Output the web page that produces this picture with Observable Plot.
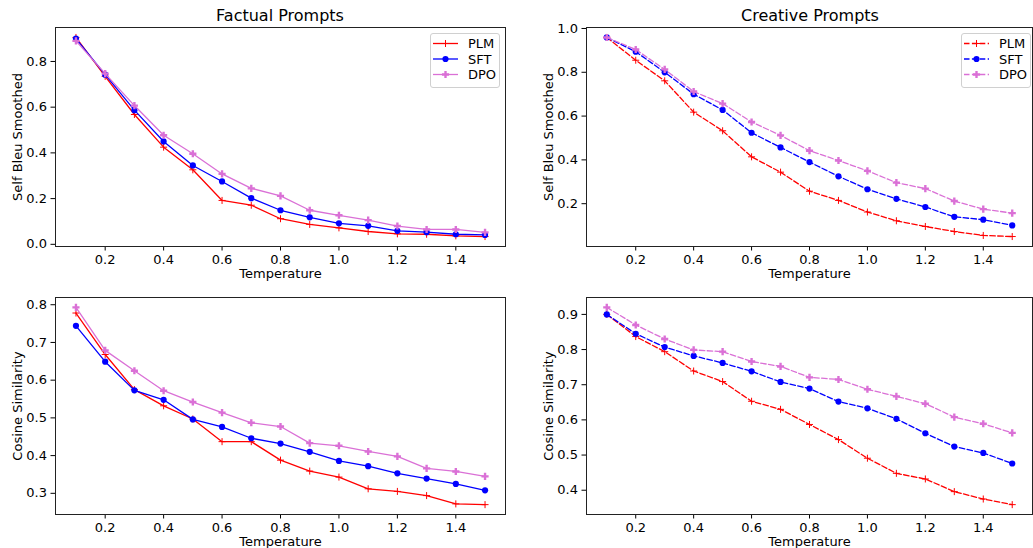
<!DOCTYPE html>
<html><head><meta charset="utf-8">
<script src="https://cdn.jsdelivr.net/npm/d3@7"></script>
<script src="https://cdn.jsdelivr.net/npm/@observablehq/plot@0.6"></script>
<style>
body{margin:0;background:#fff;font-family:"DejaVu Sans",sans-serif;}
#root{position:relative;width:1033px;height:548px;overflow:hidden;background:#fff;}
.panel{position:absolute;}
.title{position:absolute;font-size:16px;line-height:16px;transform:translateX(-50%);white-space:nowrap;color:#000;}
.legend{position:absolute;box-sizing:border-box;border:1px solid #d0d0d0;border-radius:3px;background:rgba(255,255,255,0.8);}
</style></head><body><div id="root"></div>
<script>
const temperature = [0.1,0.2,0.3,0.4,0.5,0.6,0.7,0.8,0.9,1.0,1.1,1.2,1.3,1.4,1.5];
const models = ["PLM","SFT","DPO"];
const xTicks = [0.2,0.4,0.6,0.8,1.0,1.2,1.4];

const factualBleuPLM = [0.905,0.735,0.568,0.425,0.326,0.192,0.171,0.112,0.087,0.072,0.056,0.046,0.044,0.037,0.034];
const factualBleuSFT = [0.900,0.742,0.587,0.450,0.345,0.275,0.202,0.149,0.118,0.092,0.081,0.059,0.053,0.044,0.041];
const factualBleuDPO = [0.890,0.747,0.607,0.477,0.396,0.308,0.245,0.212,0.149,0.127,0.106,0.080,0.065,0.065,0.052];

const creativeBleuPLM = [0.959,0.855,0.761,0.618,0.533,0.414,0.344,0.257,0.215,0.162,0.122,0.096,0.073,0.055,0.050];
const creativeBleuSFT = [0.959,0.894,0.800,0.700,0.628,0.524,0.457,0.390,0.325,0.266,0.222,0.185,0.140,0.127,0.101];
const creativeBleuDPO = [0.959,0.904,0.813,0.712,0.657,0.573,0.512,0.442,0.397,0.350,0.296,0.269,0.212,0.175,0.157];

const factualCosPLM = [0.778,0.668,0.575,0.532,0.497,0.437,0.437,0.388,0.359,0.343,0.312,0.305,0.294,0.272,0.270];
const factualCosSFT = [0.744,0.649,0.573,0.548,0.496,0.476,0.446,0.432,0.410,0.386,0.372,0.353,0.339,0.325,0.308];
const factualCosDPO = [0.793,0.679,0.625,0.572,0.542,0.514,0.487,0.477,0.433,0.426,0.411,0.398,0.366,0.358,0.345];

const creativeCosPLM = [0.900,0.837,0.794,0.739,0.709,0.653,0.630,0.587,0.544,0.491,0.448,0.432,0.396,0.375,0.359];
const creativeCosSFT = [0.900,0.845,0.807,0.782,0.762,0.738,0.708,0.689,0.652,0.633,0.603,0.562,0.524,0.506,0.476];
const creativeCosDPO = [0.920,0.870,0.830,0.799,0.794,0.766,0.752,0.721,0.715,0.687,0.667,0.646,0.608,0.589,0.563];

const colors = {PLM:"#ff0000", SFT:"#0000ff", DPO:"#da70d6"};

function toRows(plm, sft, dpo){
  const rows = [];
  [["PLM",plm],["SFT",sft],["DPO",dpo]].forEach(([m,arr]) => arr.forEach((v,i) => rows.push({model:m, t:temperature[i], v})));
  return rows;
}
function padDomain(vals){
  const lo = d3.min(vals), hi = d3.max(vals), r = hi - lo;
  return [lo - 0.05*r, hi + 0.05*r];
}
const root = document.getElementById("root");

function panel({left, top, width, height, mL, mR, mT, mB, rows, yTicks, yLabel, dashed}){
  const dash = dashed ? "5.5,2.4" : null;
  const marks = [Plot.frame({stroke:"#222", strokeWidth:1})];
  for (const m of models){
    const data = rows.filter(d => d.model === m);
    marks.push(Plot.line(data, {x:"t", y:"v", stroke:colors[m], strokeWidth:1.3, strokeDasharray:dash}));
    if (m === "PLM") marks.push(Plot.dot(data, {x:"t", y:"v", symbol:"plus", stroke:colors[m], strokeWidth:1, r:2.4}));
    else if (m === "SFT") marks.push(Plot.dot(data, {x:"t", y:"v", symbol:"circle", fill:colors[m], r:3.1}));
    else marks.push(Plot.dot(data, {x:"t", y:"v", symbol:"cross", fill:colors[m], r:3}));
  }
  const svg = Plot.plot({
    width, height, marginLeft:mL, marginRight:mR, marginTop:mT, marginBottom:mB,
    style:{fontSize:"13px", fontFamily:"DejaVu Sans, sans-serif", color:"#000", background:"transparent", overflow:"visible"},
    x:{domain:[0.03,1.57], ticks:xTicks, tickFormat:d3.format(".1f"), tickSize:4.5, tickPadding:4, label:"Temperature", labelAnchor:"center", labelOffset:31, labelArrow:"none"},
    y:{domain:padDomain(rows.map(d=>d.v)), ticks:yTicks, tickFormat:d3.format(".1f"), tickSize:4.5, tickPadding:4, label:yLabel, labelAnchor:"center", labelOffset:43, labelArrow:"none"},
    marks
  });
  svg.classList.add("panel");
  svg.style.left = left + "px";
  svg.style.top = top + "px";
  root.appendChild(svg);
}

function title(text, cx, top){
  const d = document.createElement("div");
  d.className = "title"; d.textContent = text;
  d.style.left = cx + "px"; d.style.top = top + "px";
  root.appendChild(d);
}

function legend(left, top, dashed){
  const d = document.createElement("div");
  d.className = "legend";
  d.style.left = left + "px"; d.style.top = top + "px";
  d.style.width = "70px"; d.style.height = "55px";
  const ns = "http://www.w3.org/2000/svg";
  const s = document.createElementNS(ns, "svg");
  s.setAttribute("width", 68); s.setAttribute("height", 53);
  models.forEach((m,i) => {
    const y = 9.5 + i*15.5;
    const ln = document.createElementNS(ns,"line");
    ln.setAttribute("x1",2); ln.setAttribute("x2",27); ln.setAttribute("y1",y); ln.setAttribute("y2",y);
    ln.setAttribute("stroke",colors[m]); ln.setAttribute("stroke-width",1.3);
    if (dashed) ln.setAttribute("stroke-dasharray","5.5,2.4");
    s.appendChild(ln);
    const p = document.createElementNS(ns,"path");
    const sym = m==="PLM" ? d3.symbolPlus : m==="SFT" ? d3.symbolCircle : d3.symbolCross;
    const size = m==="PLM" ? 18 : m==="SFT" ? 30 : 28;
    p.setAttribute("d", d3.symbol(sym, size)());
    p.setAttribute("transform", `translate(14.5,${y})`);
    if (m==="PLM"){ p.setAttribute("stroke",colors[m]); p.setAttribute("fill","none"); }
    else p.setAttribute("fill",colors[m]);
    s.appendChild(p);
    const t = document.createElementNS(ns,"text");
    t.setAttribute("x",37); t.setAttribute("y",y+4.5);
    t.setAttribute("font-size",13); t.setAttribute("font-family","DejaVu Sans, sans-serif");
    t.textContent = m;
    s.appendChild(t);
  });
  d.appendChild(s);
  root.appendChild(d);
}

panel({left:0, top:0, width:516, height:292, mL:55, mR:11, mT:27, mB:46,
  rows:toRows(factualBleuPLM,factualBleuSFT,factualBleuDPO), yTicks:[0,0.2,0.4,0.6,0.8], yLabel:"Self Bleu Smoothed", dashed:false});
panel({left:516, top:0, width:517, height:292, mL:70, mR:1, mT:27, mB:46,
  rows:toRows(creativeBleuPLM,creativeBleuSFT,creativeBleuDPO), yTicks:[0.2,0.4,0.6,0.8,1.0], yLabel:"Self Bleu Smoothed", dashed:true});
panel({left:0, top:280, width:516, height:268, mL:55, mR:11, mT:17, mB:34,
  rows:toRows(factualCosPLM,factualCosSFT,factualCosDPO), yTicks:[0.3,0.4,0.5,0.6,0.7,0.8], yLabel:"Cosine Similarity", dashed:false});
panel({left:516, top:280, width:517, height:268, mL:70, mR:1, mT:17, mB:34,
  rows:toRows(creativeCosPLM,creativeCosSFT,creativeCosDPO), yTicks:[0.4,0.5,0.6,0.7,0.8,0.9], yLabel:"Cosine Similarity", dashed:true});

title("Factual Prompts", 280, 8);
title("Creative Prompts", 810, 8);
legend(430, 33, false);
legend(961, 33, true);
</script></body></html>
